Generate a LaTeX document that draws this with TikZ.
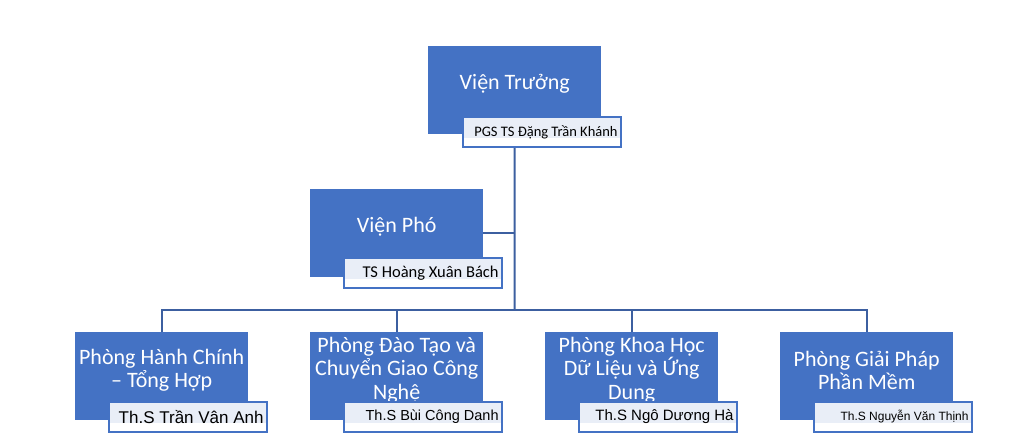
\documentclass[tikz,border=0pt]{standalone}
\usepackage{fontspec}
\setmainfont{Carlito}
\newfontfamily\arialf{Liberation Sans}
\definecolor{boxblue}{HTML}{4472C4}
\definecolor{linecol}{HTML}{3C5FA0}
\definecolor{tint}{HTML}{E9EEF7}
\begin{document}
\begin{tikzpicture}[x=1pt,y=-1pt,
  orgbox/.style={draw=none,fill=boxblue,minimum width=173pt,minimum height=88pt,anchor=north west,inner sep=0pt},
  boxtext/.style={text=white,font=\fontsize{22}{23.5}\selectfont,align=center,inner sep=0pt},
  lab/.style={draw=boxblue,line width=1.8pt,fill=white,minimum width=158pt,minimum height=30pt,anchor=north west,inner sep=0pt,
    path picture={\fill[tint] ([xshift=1pt,yshift=-1pt]path picture bounding box.north west) rectangle ([xshift=-1pt,yshift=9pt]path picture bounding box.south east);}},
  labtext/.style={anchor=east,inner sep=0pt,text=black},
  conn/.style={draw=linecol,line width=2pt}]
\useasboundingbox (0,0) rectangle (1012,445);
\coordinate (hub) at (514.5,310);
% boxes
\node[orgbox] (b0) at (428,46) {};
\node[orgbox] (b1) at (310,189) {};
\node[orgbox] (bA) at (75,332) {};
\node[orgbox] (bB) at (310,332) {};
\node[orgbox] (bC) at (545,332) {};
\node[orgbox] (bD) at (780,332) {};
% connectors
\draw[conn] (b0.south) -- (hub);
\draw[conn] (b1.east) -- (b1.east -| hub);
\draw[conn] (bA.north) -- (bA.north |- hub) -- (bD.north |- hub) -- (bD.north);
\draw[conn] (bB.north) -- (bB.north |- hub);
\draw[conn] (bC.north) -- (bC.north |- hub);
% box texts
\node[boxtext] (t0) at ([yshift=6pt]b0.center) {Viện Trưởng};
\node[boxtext] (t1) at ([yshift=6pt]b1.center) {Viện Phó};
\node[boxtext] (tA) at ([yshift=6pt]bA.center) {Phòng Hành Chính\\– Tổng Hợp};
\node[boxtext] (tB) at ([yshift=6pt]bB.center) {Phòng Đào Tạo và\\Chuyển Giao Công\\Nghệ};
\node[boxtext] (tC) at ([yshift=6pt]bC.center) {Phòng Khoa Học\\Dữ Liệu và Ứng\\Dung};
\node[boxtext] (tD) at ([yshift=6pt]bD.center) {Phòng Giải Pháp\\Phần Mềm};
% labels
\node[lab] (l0) at (462,116) {};
\node[labtext,font=\fontsize{14.5}{16}\selectfont] (n0) at ([xshift=-4pt]l0.east) {PGS TS Đặng Trần Khánh};
\node[lab] (l1) at (343,257) {};
\node[labtext,font=\fontsize{16.5}{18}\selectfont] (n1) at ([xshift=-4pt]l1.east) {TS Hoàng Xuân Bách};
\node[lab] (lA) at (108,401) {};
\node[labtext,font=\arialf\fontsize{17}{19}\selectfont] (nA) at ([xshift=-4pt]lA.east) {Th.S Trần Vân Anh};
\node[lab] (lB) at (343,401) {};
\node[labtext,font=\arialf\fontsize{14.5}{16}\selectfont] (nB) at ([xshift=-4pt]lB.east) {Th.S Bùi Công Danh};
\node[lab] (lC) at (578,401) {};
\node[labtext,font=\arialf\fontsize{15}{17}\selectfont] (nC) at ([xshift=-4pt]lC.east) {Th.S Ngô Dương Hà};
\node[lab] (lD) at (813,401) {};
\node[labtext,font=\arialf\fontsize{12}{14}\selectfont] (nD) at ([xshift=-4pt]lD.east) {Th.S Nguyễn Văn Thịnh};
\end{tikzpicture}
\end{document}
